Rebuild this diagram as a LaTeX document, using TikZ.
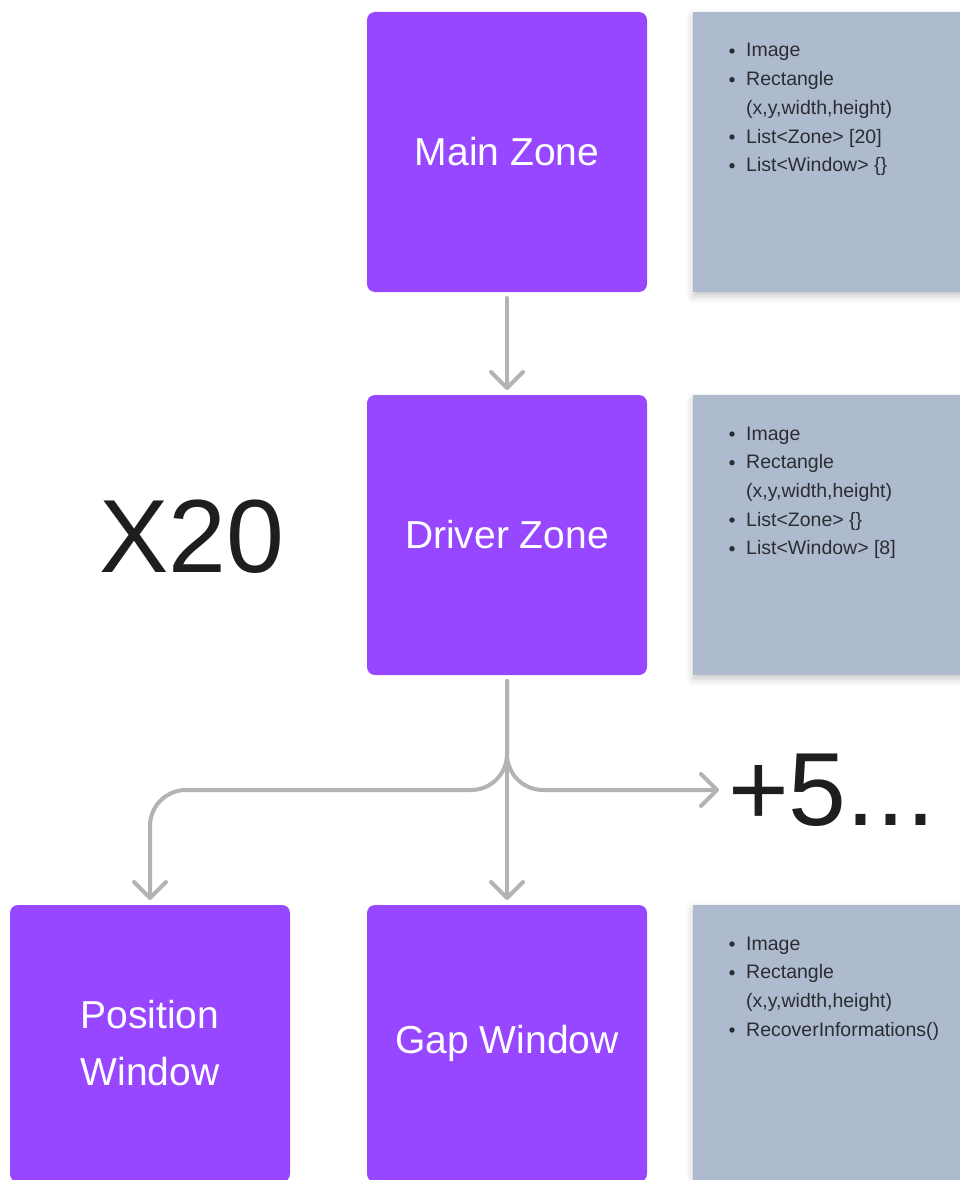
\documentclass[tikz,border=0pt]{standalone}
\usepackage{fontspec}
\setmainfont{Liberation Sans}
\usetikzlibrary{arrows.meta,shadows.blur}
\definecolor{zonepurple}{HTML}{9747FF}
\definecolor{notebg}{HTML}{AEBACE}
\definecolor{conngray}{HTML}{B3B3B3}
\definecolor{inkdark}{HTML}{1E1E1E}
\definecolor{notetext}{HTML}{2B2D33}
\begin{document}
\begin{tikzpicture}[x=1pt,y=-1pt,
  zone/.style={fill=zonepurple, rounded corners=8pt, minimum width=280pt, minimum height=280pt,
    inner sep=0pt, outer sep=0pt, text=white, font=\fontsize{39}{57}\selectfont, align=center},
  notebox/.style={fill=notebg, minimum width=275pt, minimum height=280pt, inner sep=0pt, outer sep=0pt,
    anchor=north west, blur shadow={shadow xshift=0pt, shadow yshift=-4pt, shadow blur radius=7pt, shadow opacity=22}},
  notetxt/.style={text=notetext, font=\fontsize{19.5}{22}\selectfont, inner sep=0pt, anchor=base west},
  bulletdot/.style={fill=notetext},
  conn/.style={draw=conngray, line width=4pt, line cap=round, line join=round,
    -{Straight Barb[length=16pt,width=32pt,line cap=round,line join=round]}},
  big/.style={text=inkdark, font=\fontsize{104}{110}\selectfont, inner sep=0pt}
]
\useasboundingbox (0,0) rectangle (960,1180);
\clip (0,0) rectangle (960,1180);

% zones
\node[zone] (main) at (507,152) {Main Zone};
\node[zone] (driver) at (507,535) {Driver Zone};
\node[zone, minimum height=277pt] (pos) at (150,1043.5) {Position\\Window};
\node[zone, minimum height=277pt] (gap) at (507,1043.5) {Gap Window};

% notes
\node[notebox] (note1) at (693,12) {};
\node[notebox] (note2) at (693,395) {};
\node[notebox, minimum height=290pt] (note3) at (693,905) {};

% note 1 text
\fill[bulletdot] (732,51) circle (2.7);
\node[notetxt] (n1a) at (746,57) {Image};
\fill[bulletdot] (732,79.7) circle (2.7);
\node[notetxt] (n1b) at (746,85.7) {Rectangle};
\node[notetxt] (n1c) at (746,114.3) {(x,y,width,height)};
\fill[bulletdot] (732,137) circle (2.7);
\node[notetxt] (n1d) at (746,143) {List<Zone> [20]};
\fill[bulletdot] (732,165.7) circle (2.7);
\node[notetxt] (n1e) at (746,171.7) {List<Window> \{\}};

% note 2 text
\fill[bulletdot] (732,434) circle (2.7);
\node[notetxt] (n2a) at (746,440) {Image};
\fill[bulletdot] (732,462.7) circle (2.7);
\node[notetxt] (n2b) at (746,468.7) {Rectangle};
\node[notetxt] (n2c) at (746,497.3) {(x,y,width,height)};
\fill[bulletdot] (732,520) circle (2.7);
\node[notetxt] (n2d) at (746,526) {List<Zone> \{\}};
\fill[bulletdot] (732,548.7) circle (2.7);
\node[notetxt] (n2e) at (746,554.7) {List<Window> [8]};

% note 3 text
\fill[bulletdot] (732,944) circle (2.7);
\node[notetxt] (n3a) at (746,950) {Image};
\fill[bulletdot] (732,972.7) circle (2.7);
\node[notetxt] (n3b) at (746,978.7) {Rectangle};
\node[notetxt] (n3c) at (746,1007.3) {(x,y,width,height)};
\fill[bulletdot] (732,1030) circle (2.7);
\node[notetxt] (n3d) at (746,1036) {RecoverInformations()};

% big labels
\node[big, anchor=base west] (x20) at (99,572) {X20};
\node[big, anchor=west] (more) at (728,790) {+5.\kern1pt.\kern1pt.};

% connectors
\coordinate (hb) at (507,790);
\draw[conn, shorten <=6pt, shorten >=5pt] (main.south) -- (driver.north);
\draw[conn, rounded corners=36pt, shorten <=6pt, shorten >=5pt]
  (driver.south) -- (hb) -- (hb -| pos.north) -- (pos.north);
\draw[conn, shorten <=6pt, shorten >=5pt] (driver.south) -- (gap.north);
\draw[conn, rounded corners=36pt, shorten <=6pt, shorten >=9pt]
  (driver.south) -- (hb) -- (more.west);
\end{tikzpicture}
\end{document}
